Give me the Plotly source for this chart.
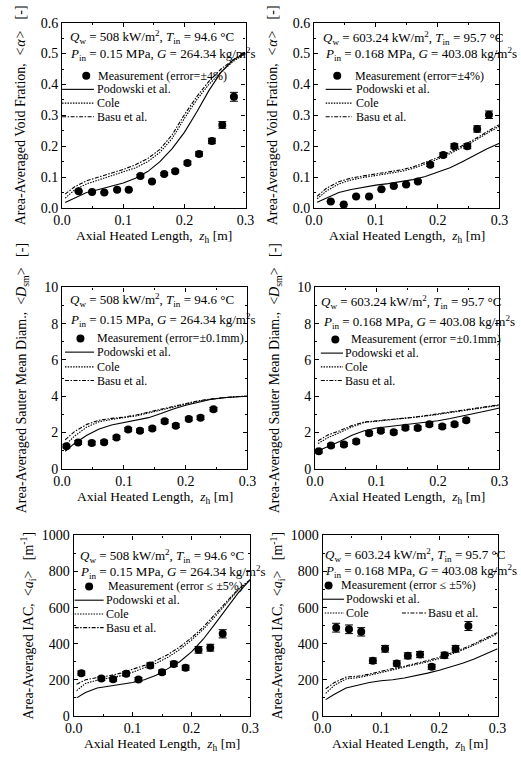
import plotly.graph_objects as go

W, H = 521, 769
FONT = "Liberation Serif"

# ---------------- data ----------------
z_model = [0.005, 0.02, 0.04, 0.06, 0.08, 0.10, 0.12, 0.14, 0.16, 0.18, 0.20, 0.22, 0.24, 0.26, 0.28, 0.30]
x_ticks = [0.0, 0.1, 0.2, 0.3]
x_tick_text = ["0.0", "0.1", "0.2", "0.3"]

# Void fraction, case 1 (Qw = 508 kW/m2)
z_void_1 = [0.027, 0.049, 0.069, 0.090, 0.109, 0.128, 0.147, 0.167, 0.185, 0.205, 0.224, 0.245, 0.262, 0.281]
void_meas_1 = [0.054, 0.052, 0.050, 0.059, 0.059, 0.104, 0.086, 0.110, 0.119, 0.146, 0.175, 0.217, 0.269, 0.360]
void_podowski_1 = [0.018, 0.032, 0.050, 0.060, 0.070, 0.081, 0.096, 0.118, 0.150, 0.192, 0.245, 0.310, 0.380, 0.440, 0.480, 0.500]
void_cole_1 = [0.032, 0.058, 0.078, 0.091, 0.103, 0.115, 0.130, 0.150, 0.180, 0.225, 0.290, 0.350, 0.400, 0.440, 0.475, 0.500]
void_basu_1 = [0.045, 0.068, 0.088, 0.100, 0.112, 0.125, 0.140, 0.160, 0.190, 0.237, 0.302, 0.360, 0.410, 0.450, 0.480, 0.505]

# Void fraction, case 2 (Qw = 603.24 kW/m2)
z_void_2 = [0.027, 0.048, 0.068, 0.089, 0.109, 0.129, 0.149, 0.168, 0.188, 0.209, 0.227, 0.248, 0.264, 0.283]
void_meas_2 = [0.021, 0.011, 0.037, 0.037, 0.061, 0.071, 0.076, 0.086, 0.140, 0.172, 0.200, 0.200, 0.256, 0.302]
void_podowski_2 = [0.019, 0.033, 0.050, 0.060, 0.068, 0.074, 0.079, 0.085, 0.092, 0.102, 0.115, 0.130, 0.150, 0.172, 0.192, 0.210]
void_cole_2 = [0.030, 0.055, 0.078, 0.091, 0.099, 0.105, 0.111, 0.118, 0.128, 0.142, 0.158, 0.176, 0.196, 0.218, 0.242, 0.265]
void_basu_2 = [0.038, 0.064, 0.085, 0.097, 0.104, 0.110, 0.116, 0.123, 0.133, 0.147, 0.163, 0.181, 0.201, 0.223, 0.247, 0.270]

# Sauter mean diameter, case 1
z_dsm_1 = [0.007, 0.026, 0.048, 0.068, 0.088, 0.107, 0.126, 0.146, 0.166, 0.184, 0.205, 0.224, 0.245]
dsm_meas_1 = [1.25, 1.45, 1.42, 1.47, 1.72, 2.17, 2.10, 2.22, 2.62, 2.38, 2.75, 2.82, 3.28]
dsm_podowski_1 = [0.97, 1.40, 1.85, 2.20, 2.42, 2.55, 2.68, 2.82, 3.05, 3.30, 3.50, 3.68, 3.82, 3.92, 3.98, 4.00]
dsm_cole_1 = [1.30, 1.80, 2.30, 2.60, 2.72, 2.80, 2.92, 3.08, 3.25, 3.42, 3.58, 3.72, 3.83, 3.92, 3.98, 4.00]
dsm_basu_1 = [1.60, 2.05, 2.45, 2.68, 2.78, 2.85, 2.97, 3.12, 3.28, 3.45, 3.61, 3.75, 3.85, 3.93, 3.98, 4.00]

# Sauter mean diameter, case 2
z_dsm_2 = [0.006, 0.026, 0.047, 0.067, 0.088, 0.107, 0.128, 0.147, 0.167, 0.186, 0.207, 0.227, 0.246]
dsm_meas_2 = [0.97, 1.29, 1.34, 1.50, 1.96, 2.10, 2.02, 2.26, 2.25, 2.45, 2.33, 2.46, 2.68]
dsm_podowski_2 = [1.00, 1.20, 1.50, 1.85, 2.10, 2.25, 2.33, 2.40, 2.47, 2.55, 2.65, 2.77, 2.90, 3.05, 3.20, 3.35]
dsm_cole_2 = [1.40, 1.70, 2.00, 2.30, 2.55, 2.62, 2.67, 2.74, 2.82, 2.91, 3.00, 3.10, 3.20, 3.30, 3.40, 3.50]
dsm_basu_2 = [1.55, 1.85, 2.10, 2.38, 2.58, 2.64, 2.69, 2.76, 2.84, 2.93, 3.02, 3.12, 3.22, 3.33, 3.43, 3.53]

# Interfacial area concentration, case 1
z_iac_1 = [0.013, 0.047, 0.067, 0.089, 0.110, 0.130, 0.150, 0.170, 0.190, 0.212, 0.232, 0.253]
iac_meas_1 = [237, 207, 203, 233, 202, 280, 242, 288, 267, 366, 378, 455]
iac_podowski_1 = [100, 130, 155, 165, 175, 185, 200, 225, 262, 300, 355, 425, 510, 600, 685, 755]
iac_cole_1 = [140, 180, 198, 208, 222, 242, 265, 292, 325, 368, 420, 480, 550, 625, 700, 755]
iac_basu_1 = [175, 200, 212, 222, 237, 257, 280, 307, 340, 382, 433, 492, 562, 635, 705, 755]

# Interfacial area concentration, case 2
z_iac_2 = [0.023, 0.045, 0.066, 0.086, 0.107, 0.127, 0.146, 0.167, 0.187, 0.209, 0.228, 0.250]
iac_meas_2 = [489, 480, 466, 306, 372, 291, 333, 340, 272, 336, 372, 498]
iac_podowski_2 = [90, 120, 155, 170, 185, 195, 200, 210, 222, 237, 253, 272, 292, 315, 343, 372]
iac_cole_2 = [125, 170, 205, 212, 225, 240, 255, 268, 283, 300, 318, 340, 365, 393, 422, 455]
iac_basu_2 = [150, 185, 215, 220, 232, 248, 262, 275, 290, 307, 325, 347, 372, 400, 430, 462]

void_ticks = [0.0, 0.1, 0.2, 0.3, 0.4, 0.5, 0.6]
void_tick_text = ["0.0", "0.1", "0.2", "0.3", "0.4", "0.5", "0.6"]
dsm_ticks = [0, 2, 4, 6, 8, 10]
iac_ticks = [0, 200, 400, 600, 800, 1000]

model_names = ["Podowski et al.", "Cole", "Basu et al."]

# ---------------- styles / layout ----------------
DASHES = ["solid", "1.5px,1.2px", "4px,1.5px,1.5px,1.5px"]
LW = 1.1

cond_1 = ["<i>Q</i><sub>w</sub> = 508 kW/m<sup>2</sup>, <i>T</i><sub>in</sub> = 94.6 °C",
          "<i>P</i><sub>in</sub> = 0.15 MPa, <i>G</i> = 264.34 kg/m<sup>2</sup>s"]
cond_2 = ["<i>Q</i><sub>w</sub> = 603.24 kW/m<sup>2</sup>, <i>T</i><sub>in</sub> = 95.7 °C",
          "<i>P</i><sub>in</sub> = 0.168 MPa, <i>G</i> = 403.08 kg/m<sup>2</sup>s"]

yt_void = "Area-Averaged Void Fration,&nbsp;&nbsp;<i>&lt;α&gt;</i>&nbsp;&nbsp;&nbsp;[-]"
yt_dsm = "Area-Averaged Sauter Mean Diam.,&nbsp;&nbsp;&lt;<i>D</i><sub>sm</sub>&gt;&nbsp;&nbsp;&nbsp;[-]"
yt_iac = "Area-Averaged IAC,&nbsp;&nbsp;&lt;<i>a</i><sub>i</sub>&gt;&nbsp;&nbsp;&nbsp;[m<sup>-1</sup>]"
xt = "Axial Heated Length,&nbsp;&nbsp;<i>z</i><sub>h</sub> [m]"

panels = [
    dict(xd=(55, 245), yd=(16, 205), yr=[0, 0.6], yt=void_ticks, ytt=void_tick_text, ymin=0.05, ysd=11, xty=234,
         ytitle=yt_void, zm=z_void_1, ym=void_meas_1, err=dict(type="percent", value=4),
         models=[void_podowski_1, void_cole_1, void_basu_1], cond=cond_1, cond_pos=[(62, 31), (62, 48)],
         meas_label="Measurement (error=±4%)", meas_pos=(80, 70, 91),
         leg=[(84, 55, 88, 90), (98, 55, 88, 90), (112, 55, 88, 90)]),
    dict(xd=(316, 508), yd=(16, 205), yr=[0, 0.6], yt=void_ticks, ytt=void_tick_text, ymin=0.05, ysd=11, xty=234,
         ytitle=yt_void, zm=z_void_2, ym=void_meas_2, err=dict(type="percent", value=4),
         models=[void_podowski_2, void_cole_2, void_basu_2], cond=cond_2, cond_pos=[(324, 32), (326, 48)],
         meas_label="Measurement (error=±4%)", meas_pos=(340, 70, 357),
         leg=[(84, 328, 355, 358), (98, 328, 355, 358), (112, 328, 355, 358)]),
    dict(xd=(55, 247), yd=(286, 471), yr=[0, 10], yt=dsm_ticks, ytt=[str(v) for v in dsm_ticks], ymin=1, ysd=14, xty=500,
         ytitle=yt_dsm, zm=z_dsm_1, ym=dsm_meas_1, err=dict(type="constant", value=0.1),
         models=[dsm_podowski_1, dsm_cole_1, dsm_basu_1], cond=cond_1, cond_pos=[(62, 299), (62, 319)],
         meas_label="Measurement (error=±0.1mm)", meas_pos=(74, 338, 90),
         leg=[(352, 58, 88, 90), (367, 58, 88, 90), (381, 58, 88, 90)]),
    dict(xd=(317, 508), yd=(286, 471), yr=[0, 10], yt=dsm_ticks, ytt=[str(v) for v in dsm_ticks], ymin=1, ysd=14, xty=500,
         ytitle=yt_dsm, zm=z_dsm_2, ym=dsm_meas_2, err=dict(type="constant", value=0.1),
         models=[dsm_podowski_2, dsm_cole_2, dsm_basu_2], cond=cond_2, cond_pos=[(322, 301), (324, 321)],
         meas_label="Measurement (error =±0.1mm)", meas_pos=(338, 339, 353),
         leg=[(353, 323, 346, 347), (367, 323, 346, 347), (381, 323, 346, 347)]),
    dict(xd=(67, 250), yd=(539, 723), yr=[0, 1000], yt=iac_ticks, ytt=[str(v) for v in iac_ticks], ymin=100, ysd=4, xty=752,
         ytitle=yt_iac, zm=z_iac_1, ym=iac_meas_1, err=dict(type="percent", value=5),
         models=[iac_podowski_1, iac_cole_1, iac_basu_1], cond=cond_1, cond_pos=[(72, 560), (72, 576)],
         meas_label="Measurement (error ≤ ±5%)", meas_pos=(83, 591, 102),
         leg=[(605, 68, 98, 99), (619, 68, 98, 99), (633, 68, 98, 99)]),
    dict(xd=(325, 506), yd=(539, 723), yr=[0, 1000], yt=iac_ticks, ytt=[str(v) for v in iac_ticks], ymin=100, ysd=4, xty=752,
         ytitle=yt_iac, zm=z_iac_2, ym=iac_meas_2, err=dict(type="percent", value=5),
         models=[iac_podowski_2, iac_cole_2, iac_basu_2], cond=cond_2, cond_pos=[(326, 559), (326, 575)],
         meas_label="Measurement (error ≤ ±5%)", meas_pos=(331, 590, 343),
         leg=[(604, 325, 347, 348), (618, 327, 347, 348), (618, 407, 432, 433)]),
]


def px(x):
    return x / W


def py(y):
    return 1 - y / H


fig = go.Figure()
annotations = []
shapes = []
axis_font = dict(family=FONT, size=14, color="black")

for i, p in enumerate(panels, start=1):
    sx = "" if i == 1 else str(i)
    xref, yref = "x" + sx, "y" + sx
    for name, vals, dash in zip(model_names, p["models"], DASHES):
        fig.add_trace(go.Scatter(x=z_model, y=vals, mode="lines", name=name, showlegend=False,
                                 line=dict(color="black", width=LW, dash=dash),
                                 xaxis=xref, yaxis=yref))
    fig.add_trace(go.Scatter(x=p["zm"], y=p["ym"], mode="markers", name="Measurement", showlegend=False,
                             marker=dict(color="black", size=8),
                             error_y=dict(p["err"], color="black", thickness=1, width=4),
                             xaxis=xref, yaxis=yref))
    common = dict(showline=True, linecolor="black", linewidth=1.2, mirror="ticks", ticks="inside",
                  ticklen=4, tickwidth=1, tickcolor="black", showgrid=False, zeroline=False,
                  tickfont=axis_font)
    fig.layout["xaxis" + sx] = dict(common, domain=[px(p["xd"][0]), px(p["xd"][1])], anchor=yref,
                                    range=[0, 0.3], tickmode="array", tickvals=x_ticks, ticktext=x_tick_text,
                                    ticklabelstandoff=-1,
                                    minor=dict(ticks="inside", ticklen=2, tickmode="linear", tick0=0, dtick=0.05,
                                               tickcolor="black", showgrid=False))
    fig.layout["yaxis" + sx] = dict(common, domain=[py(p["yd"][1]), py(p["yd"][0])], anchor=xref,
                                    range=p["yr"], tickmode="array", tickvals=p["yt"], ticktext=p["ytt"],
                                    minor=dict(ticks="inside", ticklen=2, tickmode="linear", tick0=0,
                                               dtick=p["ymin"], tickcolor="black", showgrid=False),
                                    title=dict(text=p["ytitle"], font=dict(family=FONT, size=14, color="black"),
                                               standoff=p["ysd"]))
    # x-axis title, centred under the plot area
    annotations.append(dict(text=xt, x=px((p["xd"][0] + p["xd"][1]) / 2), y=py(p["xty"]),
                            xref="paper", yref="paper", xanchor="center", yanchor="middle",
                            showarrow=False, borderpad=0,
                            font=dict(family=FONT, size=13.5, color="black")))
    # condition text
    for txt, (cx, cy) in zip(p["cond"], p["cond_pos"]):
        annotations.append(dict(text=txt, x=px(cx), y=py(cy), xref="paper", yref="paper",
                                xanchor="left", yanchor="middle", showarrow=False, borderpad=0,
                                font=dict(family=FONT, size=13, color="black")))
    # legend (hand-placed to match the compact layout of the original)
    mx, my, mt = p["meas_pos"]
    shapes.append(dict(type="circle", xref="paper", yref="paper", xsizemode="pixel", ysizemode="pixel",
                       xanchor=px(mx), yanchor=py(my), x0=-4, x1=4, y0=-4, y1=4,
                       fillcolor="black", line=dict(color="black", width=0)))
    annotations.append(dict(text=p["meas_label"], x=px(mt), y=py(my), xref="paper", yref="paper",
                            xanchor="left", yanchor="middle", showarrow=False, borderpad=0,
                            font=dict(family=FONT, size=12, color="black")))
    for name, dash, (ly, lx0, lx1, lt) in zip(model_names, DASHES, p["leg"]):
        shapes.append(dict(type="line", xref="paper", yref="paper", x0=px(lx0), x1=px(lx1),
                           y0=py(ly), y1=py(ly), line=dict(color="black", width=LW, dash=dash)))
        annotations.append(dict(text=name, x=px(lt), y=py(ly), xref="paper", yref="paper",
                                xanchor="left", yanchor="middle", showarrow=False, borderpad=0,
                                font=dict(family=FONT, size=12, color="black")))

fig.update_layout(width=W, height=H, margin=dict(l=0, r=0, t=0, b=0), showlegend=False,
                  paper_bgcolor="white", plot_bgcolor="white",
                  font=dict(family=FONT, color="black"),
                  annotations=annotations, shapes=shapes)

fig.write_html("out.html")
